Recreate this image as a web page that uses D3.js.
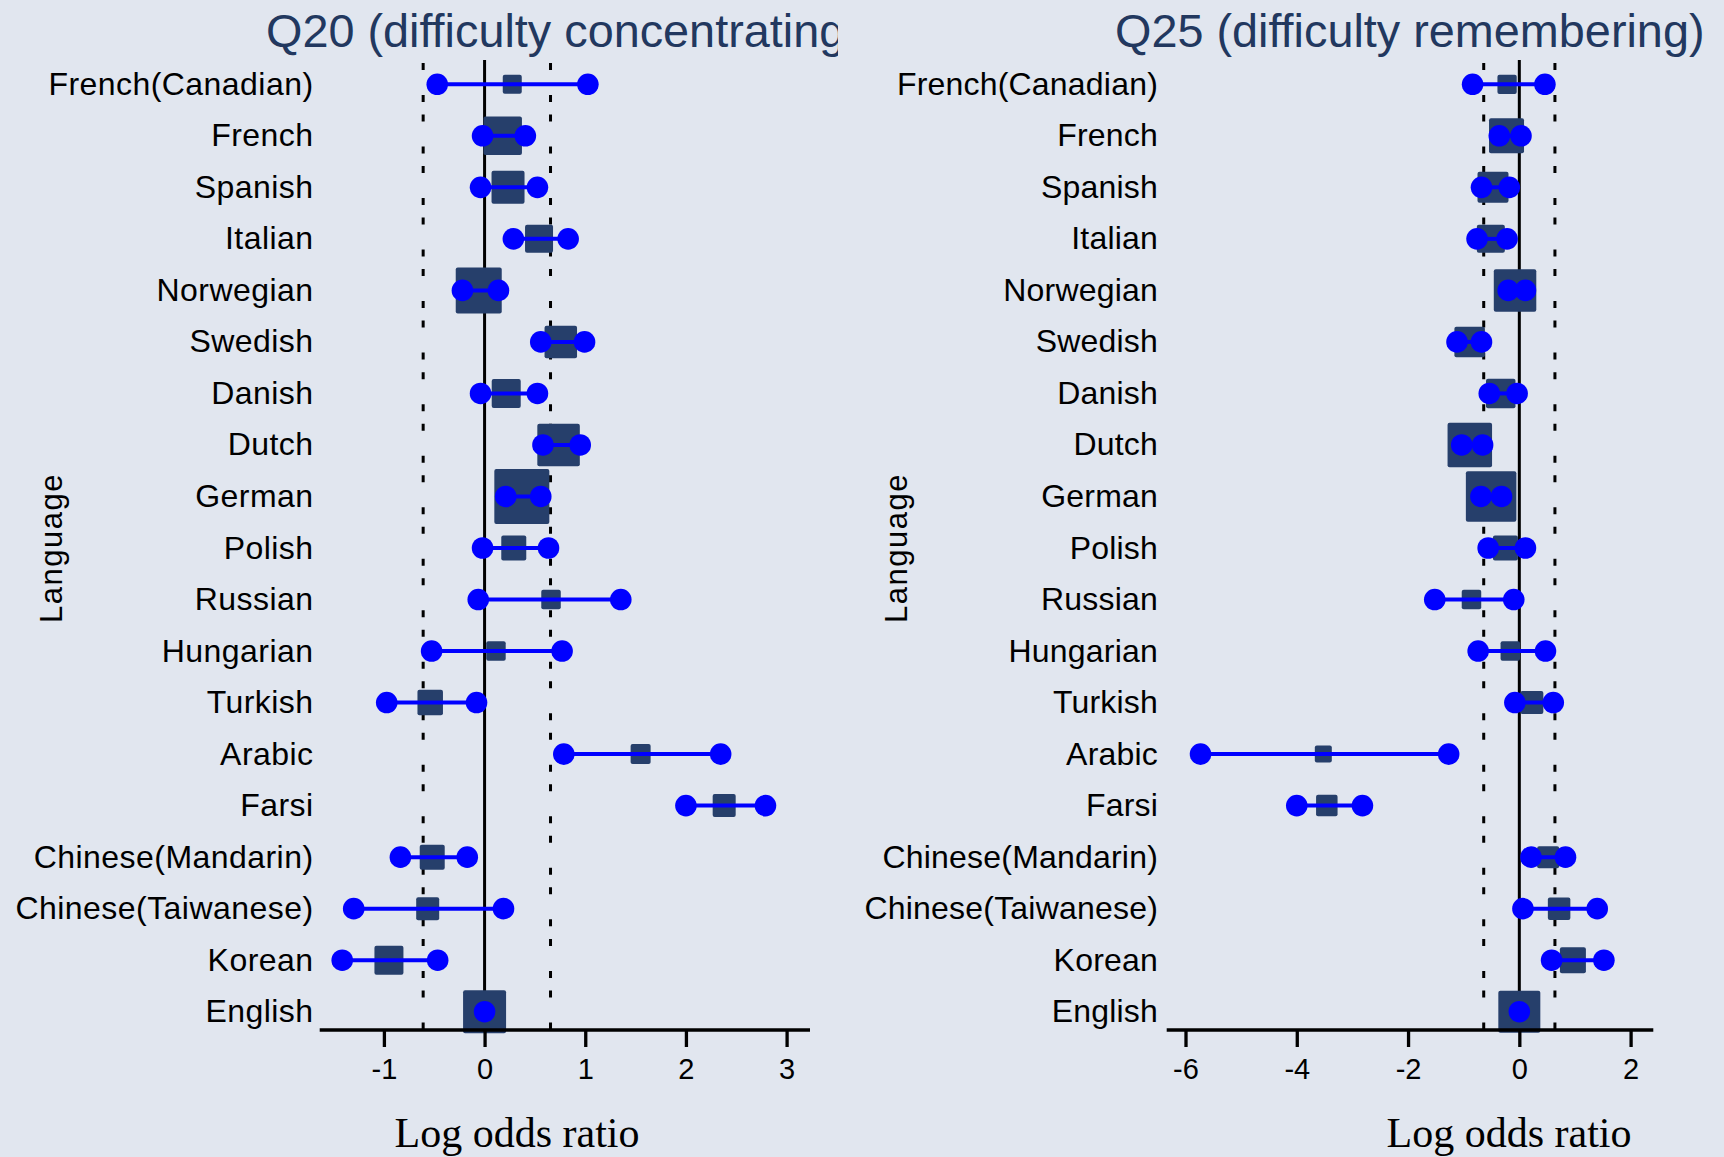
<!DOCTYPE html>
<html>
<head>
<meta charset="utf-8">
<script src="https://cdn.jsdelivr.net/npm/d3@7"></script>
<style>
  html, body { margin: 0; padding: 0; background: #e1e6ef; }
  svg { display: block; }
</style>
</head>
<body>
<svg id="chart" width="1724" height="1157"></svg>
<script>
// ---------------- data ----------------
const categories = ["French(Canadian)", "French", "Spanish", "Italian", "Norwegian", "Swedish",
  "Danish", "Dutch", "German", "Polish", "Russian", "Hungarian", "Turkish", "Arabic", "Farsi",
  "Chinese(Mandarin)", "Chinese(Taiwanese)", "Korean", "English"];

const q20Est  = [0.275, 0.18, 0.233, 0.541, -0.058, 0.757, 0.215, 0.735, 0.37, 0.29, 0.66, 0.113, -0.54, 1.55, 2.38, -0.52, -0.565, -0.95, 0];
const q20Low  = [-0.47, -0.02, -0.04, 0.286, -0.22, 0.558, -0.04, 0.58, 0.21, -0.02, -0.063, -0.526, -0.972, 0.787, 2.0, -0.836, -1.3, -1.414, 0];
const q20High = [1.026, 0.405, 0.525, 0.83, 0.138, 0.993, 0.525, 0.95, 0.558, 0.635, 1.353, 0.77, -0.08, 2.345, 2.79, -0.172, 0.188, -0.466, 0];
const q20Weight = [19, 38.5, 33, 28, 46, 32.5, 29, 42.5, 55, 25, 19.5, 19.5, 25.5, 20, 23, 25, 23, 29, 43];

const q25Est  = [-0.22, -0.23, -0.473, -0.512, -0.077, -0.893, -0.334, -0.89, -0.507, -0.25, -0.86, -0.162, 0.225, -3.523, -3.46, 0.518, 0.715, 0.963, 0];
const q25Low  = [-0.84, -0.36, -0.68, -0.76, -0.2, -1.12, -0.54, -1.035, -0.69, -0.56, -1.52, -0.74, -0.08, -5.73, -4.0, 0.21, 0.065, 0.58, 0];
const q25High = [0.46, 0.03, -0.18, -0.22, 0.11, -0.68, -0.04, -0.66, -0.32, 0.11, -0.1, 0.47, 0.61, -1.27, -2.82, 0.83, 1.4, 1.52, 0];
const q25Weight = [19.3, 35, 31, 28, 42.5, 30.5, 29.5, 44.5, 50.5, 25, 19.5, 19.5, 23, 17, 21.5, 22, 22.5, 26, 42];

const q20Ticks = [-1, 0, 1, 2, 3];
const q25Ticks = [-6, -4, -2, 0, 2];
const q20RefLines = [-0.61, 0.655];
const q25RefLines = [-0.64, 0.64];

const q20Title = "Q20 (difficulty concentrating)";
const q25Title = "Q25 (difficulty remembering)";
const xTitle = "Log odds ratio";
const yTitle = "Language";

// ---------------- layout ----------------
const svg = d3.select("#chart");
const SANS = "'Liberation Sans', Arial, Helvetica, sans-serif";
const SERIF = "'Liberation Serif', 'Times New Roman', serif";
const NAVY = "#263f6b";
const BLUE = "#0000ff";

const y = d3.scalePoint().domain(categories).range([84.3, 1011.7]);
const step = y.step();
const axisY = 1030;
const plotTop = 60;
const sizeScale = d3.scaleLinear().domain([0, 55]).range([0, 55]);

const panels = [
  { title: q20Title, est: q20Est, low: q20Low, high: q20High, weight: q20Weight,
    ticks: q20Ticks, refs: q20RefLines,
    domain: [-1, 3], range: [383.9, 786.6], axisLine: [319.7, 810],
    labelX: 313.5, yTitleX: 51, titleX: 266, clipRight: 838, xTitleX: 517, letter: 0.45 },
  { title: q25Title, est: q25Est, low: q25Low, high: q25High, weight: q25Weight,
    ticks: q25Ticks, refs: q25RefLines,
    domain: [-6, 2], range: [1185.5, 1630.6], axisLine: [1166.7, 1653.3],
    labelX: 1158, yTitleX: 895.5, titleX: 1115, clipRight: 1724, xTitleX: 1509, letter: 0.2 }
];

const defs = svg.append("defs");

panels.forEach((p, pi) => {
  const x = d3.scaleLinear().domain(p.domain).range(p.range);
  const g = svg.append("g");

  // title (clipped)
  const clipId = "clip" + pi;
  defs.append("clipPath").attr("id", clipId)
    .append("rect").attr("x", 0).attr("y", 0).attr("width", p.clipRight).attr("height", 100);
  g.append("text")
    .attr("x", p.titleX).attr("y", 46.5)
    .attr("clip-path", `url(#${clipId})`)
    .attr("font-family", SANS).attr("font-size", 46.8)
    .attr("fill", "#22385f")
    .text(p.title);

  // reference dotted lines
  g.selectAll("line.ref").data(p.refs).join("line")
    .attr("class", "ref")
    .attr("x1", d => x(d)).attr("x2", d => x(d))
    .attr("y1", 63).attr("y2", axisY)
    .attr("stroke", "#000").attr("stroke-width", 3)
    .attr("stroke-dasharray", `7 25 7 ${step - 39}`);

  // zero line
  g.append("line")
    .attr("x1", x(0)).attr("x2", x(0))
    .attr("y1", plotTop).attr("y2", axisY)
    .attr("stroke", "#000").attr("stroke-width", 3);

  const rows = categories.map((c, i) => ({ c, est: p.est[i], low: p.low[i], high: p.high[i], w: p.weight[i] }));

  // weighted squares
  g.selectAll("rect.box").data(rows).join("rect")
    .attr("class", "box")
    .attr("x", d => x(d.est) - sizeScale(d.w) / 2)
    .attr("y", d => y(d.c) - sizeScale(d.w) / 2)
    .attr("width", d => sizeScale(d.w))
    .attr("height", d => sizeScale(d.w))
    .attr("rx", 2)
    .attr("fill", NAVY);

  // CI lines
  g.selectAll("line.ci").data(rows).join("line")
    .attr("class", "ci")
    .attr("x1", d => x(d.low)).attr("x2", d => x(d.high))
    .attr("y1", d => y(d.c)).attr("y2", d => y(d.c))
    .attr("stroke", BLUE).attr("stroke-width", 4);

  // CI end circles
  const ends = rows.flatMap(d => d.low === d.high ? [{ c: d.c, v: d.low }] : [{ c: d.c, v: d.low }, { c: d.c, v: d.high }]);
  g.selectAll("circle.end").data(ends).join("circle")
    .attr("class", "end")
    .attr("cx", d => x(d.v)).attr("cy", d => y(d.c))
    .attr("r", 10.8)
    .attr("fill", BLUE);

  // category labels
  g.selectAll("text.cat").data(categories).join("text")
    .attr("class", "cat")
    .attr("x", p.labelX).attr("y", d => y(d) - 1)
    .attr("dy", "0.36em")
    .attr("text-anchor", "end")
    .attr("font-family", SANS).attr("font-size", 32)
    .attr("letter-spacing", p.letter)
    .attr("fill", "#000")
    .text(d => d);

  // y title
  g.append("text")
    .attr("transform", `translate(${p.yTitleX},548) rotate(-90)`)
    .attr("dy", "0.36em")
    .attr("text-anchor", "middle")
    .attr("font-family", SANS).attr("font-size", 31)
    .attr("letter-spacing", 1.5)
    .attr("fill", "#000")
    .text(yTitle);

  // x axis line
  g.append("line")
    .attr("x1", p.axisLine[0]).attr("x2", p.axisLine[1])
    .attr("y1", axisY).attr("y2", axisY)
    .attr("stroke", "#000").attr("stroke-width", 3.5);

  // ticks
  const ax = g.append("g").attr("transform", `translate(0,${axisY})`)
    .call(d3.axisBottom(x).tickValues(p.ticks).tickSizeInner(17).tickSizeOuter(0).tickPadding(11).tickFormat(d3.format("d")));
  ax.select(".domain").remove();
  ax.selectAll(".tick line").attr("stroke", "#000").attr("stroke-width", 3.3);
  ax.selectAll(".tick text")
    .attr("font-family", SANS).attr("font-size", 29).attr("fill", "#000")
    .text(d => String(d));

  // x title
  g.append("text")
    .attr("x", p.xTitleX).attr("y", 1147)
    .attr("text-anchor", "middle")
    .attr("font-family", SERIF).attr("font-size", 42)
    .attr("fill", "#000")
    .text(xTitle);
});
</script>
</body>
</html>
